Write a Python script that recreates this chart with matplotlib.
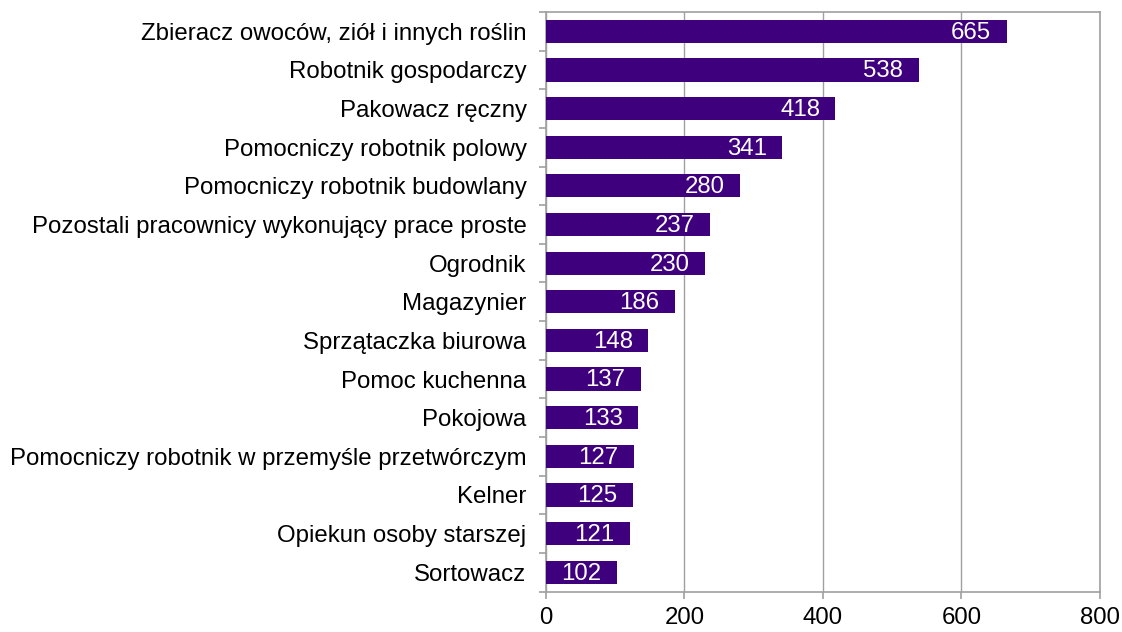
import matplotlib.pyplot as plt
from matplotlib.ticker import FixedLocator

plt.rcParams['font.family'] = ['Liberation Sans', 'DejaVu Sans']

occupations = [
    'Zbieracz owoców, ziół i innych roślin',
    'Robotnik gospodarczy',
    'Pakowacz ręczny',
    'Pomocniczy robotnik polowy',
    'Pomocniczy robotnik budowlany',
    'Pozostali pracownicy wykonujący prace proste',
    'Ogrodnik',
    'Magazynier',
    'Sprzątaczka biurowa',
    'Pomoc kuchenna',
    'Pokojowa',
    'Pomocniczy robotnik w przemyśle przetwórczym',
    'Kelner',
    'Opiekun osoby starszej',
    'Sortowacz',
]
counts = [665, 538, 418, 341, 280, 237, 230, 186, 148, 137, 133, 127, 125, 121, 102]
x_ticks = [0, 200, 400, 600, 800]

BAR = '#3f007d'
GRID = '#a0a0a0'
FS = 17.3

fig = plt.figure(figsize=(11.22, 6.32), dpi=100)
ax = fig.add_axes([0.4866, 0.064, 0.4938, 0.917])

pos = list(range(len(occupations)))
bars = ax.barh(pos, counts, height=0.6, color=BAR, zorder=3)

# value labels inside the bar end
for rect, v in zip(bars, counts):
    ax.annotate(str(v), (rect.get_width(), rect.get_y() + rect.get_height() / 2),
                xytext=(-11, -1), textcoords='offset points',
                ha='right', va='center', color='white', fontsize=FS, zorder=4)

ax.set_xlim(0, 800)
ax.set_ylim(len(occupations) - 0.5, -0.5)
ax.set_xticks(x_ticks)
ax.set_xticklabels([str(t) for t in x_ticks], fontsize=FS)
ax.set_yticks(pos)
ax.set_yticklabels(occupations, fontsize=FS)
ax.tick_params(axis='y', which='major', length=0, pad=14)
ax.yaxis.set_minor_locator(FixedLocator([p + 0.5 for p in range(-1, len(occupations))]))
ax.tick_params(axis='y', which='minor', length=5, color=GRID, width=1.2)
ax.tick_params(axis='x', length=5, color=GRID, width=1.2, pad=6)

ax.grid(axis='x', color=GRID, linewidth=1, zorder=0)
for s in ax.spines.values():
    s.set_color(GRID)
    s.set_linewidth(1.2)

fig.savefig('out.png', dpi=100)
